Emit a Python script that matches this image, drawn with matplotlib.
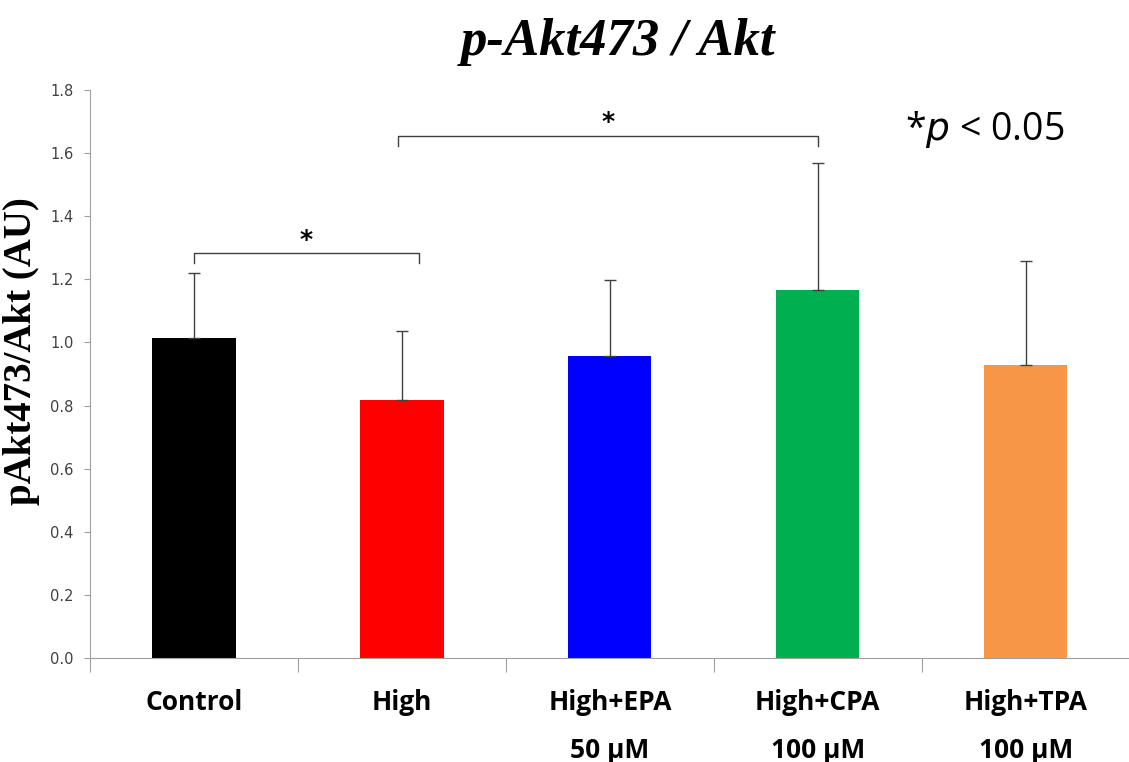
import matplotlib
matplotlib.use("Agg")
import matplotlib.pyplot as plt
import numpy as np

# data
groups = ["Control", "High", "High+EPA\n50 µM", "High+CPA\n100 µM", "High+TPA\n100 µM"]
means = [1.015, 0.818, 0.958, 1.167, 0.930]
sd = [0.205, 0.218, 0.240, 0.402, 0.327]
colors = ["#000000", "#ff0000", "#0000ff", "#00b050", "#f79646"]

# significance brackets: (left idx, right idx, height)
brackets = [(0.0, 1.08, 1.283), (0.98, 3.0, 1.654)]

fig = plt.figure(figsize=(11.29, 7.62), dpi=100)
ax = fig.add_axes([0.0797, 0.1365, 0.921, 0.7454])

x = np.arange(len(groups))
ax.bar(x, means, width=0.4, color=colors, zorder=2)
ax.errorbar(x, means, yerr=[np.zeros(len(sd)), sd], fmt="none",
            ecolor="#404040", elinewidth=1.0, capsize=4, capthick=1.0, zorder=3)

for x0, x1, h in brackets:
    ax.plot([x0, x0, x1, x1], [h - 0.03, h, h, h - 0.03], color="#404040", lw=1.0)
    ax.text((x0 + x1) / 2, h + 0.005, "*", ha="center", va="bottom", fontsize=18,
            fontweight="bold")

ax.text(0.86, 0.93, r"*$\it{p}$ < 0.05", transform=ax.transAxes, ha="center",
        va="center", fontsize=27, family="Open Sans")

ax.set_xlim(-0.5, len(groups) - 0.5)
ax.set_ylim(0, 1.8)
ax.set_yticks(np.arange(0, 1.81, 0.2))
ax.set_yticklabels([f"{v:.1f}" for v in np.arange(0, 1.81, 0.2)], fontsize=10.5,
                   color="#404040")
ax.set_xticks(np.arange(-0.5, len(groups) - 0.4, 1.0))
ax.set_xticklabels([])
ax.set_xticks(x, minor=True)
ax.set_xticklabels(groups, minor=True, fontsize=19, fontweight="bold",
                   family="Open Sans", linespacing=2.0, va="top")
ax.tick_params(axis="x", which="minor", length=0, pad=22)
ax.tick_params(axis="x", which="major", length=10, color="#a0a0a0")
ax.tick_params(axis="y", length=4, color="#a0a0a0", pad=8)

for s in ["top", "right"]:
    ax.spines[s].set_visible(False)
for s in ["left", "bottom"]:
    ax.spines[s].set_color("#a0a0a0")

ax.set_ylabel("pAkt473/Akt (AU)", fontsize=28, fontweight="bold",
              family="Liberation Serif")
ax.yaxis.set_label_coords(-0.048, 0.54)
fig.text(0.547, 0.945, "p-Akt473 / Akt", ha="center", va="center", fontsize=38,
         fontweight="bold", fontstyle="italic", family="Liberation Serif")

fig.savefig("out.png", dpi=100)
